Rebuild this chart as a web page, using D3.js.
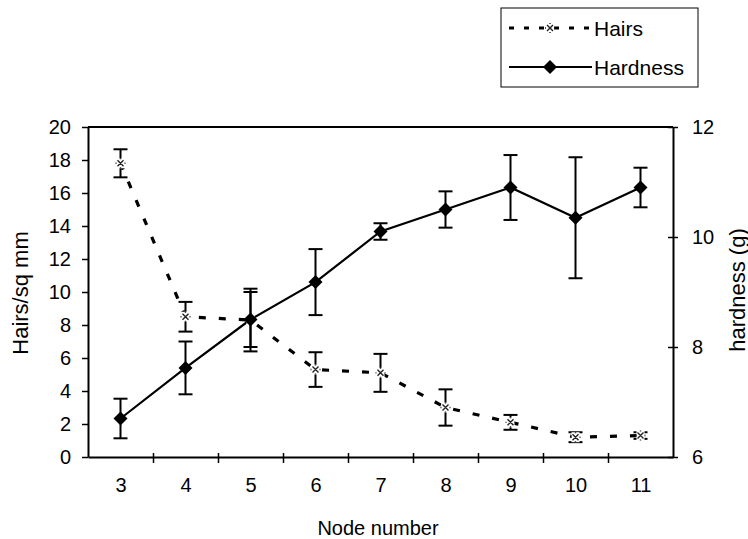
<!DOCTYPE html>
<html>
<head>
<meta charset="utf-8">
<script src="https://cdn.jsdelivr.net/npm/d3@7"></script>
<style>
  body { margin: 0; background: #fff; }
  svg { display: block; }
  text { font-family: "Liberation Sans", Arial, sans-serif; fill: #000; }
</style>
</head>
<body>
<svg id="chart" width="748" height="539"></svg>
<script>
// ---- data ----
const nodes = [3, 4, 5, 6, 7, 8, 9, 10, 11];
const hairs = [17.8, 8.5, 8.3, 5.3, 5.1, 3.0, 2.1, 1.2, 1.3];
const hairsErr = [0.85, 0.9, 1.9, 1.05, 1.15, 1.1, 0.45, 0.3, 0.2];
const hardness = [6.7, 7.62, 8.5, 9.18, 10.1, 10.5, 10.9, 10.35, 10.9];
const hardnessErr = [0.36, 0.48, 0.5, 0.6, 0.15, 0.33, 0.59, 1.1, 0.36];
const leftTicks = [0, 2, 4, 6, 8, 10, 12, 14, 16, 18, 20];
const rightTicks = [6, 8, 10, 12];
const seriesNames = ["Hairs", "Hardness"];
const xTitle = "Node number";
const yLeftTitle = "Hairs/sq mm";
const yRightTitle = "hardness (g)";

// ---- layout ----
const L = 88, R = 673, T = 127, B = 457;
const svg = d3.select("#chart");

const x = d3.scaleLinear().domain([2.5, 11.5]).range([L, R]);
const yL = d3.scaleLinear().domain([0, 20]).range([B, T]);
const yR = d3.scaleLinear().domain([6, 12]).range([B, T]);

// top border
svg.append("line").attr("x1", L).attr("x2", R).attr("y1", T).attr("y2", T)
  .attr("stroke", "#000").attr("stroke-width", 2);

// left axis
const gL = svg.append("g").attr("transform", `translate(${L},0)`)
  .call(d3.axisLeft(yL).tickValues(leftTicks).tickFormat(d3.format("d")).tickSize(6).tickSizeOuter(0).tickPadding(11));
// right axis
const gR = svg.append("g").attr("transform", `translate(${R},0)`)
  .call(d3.axisRight(yR).tickValues(rightTicks).tickFormat(d3.format("d")).tickSize(5).tickSizeOuter(0).tickPadding(14));
gR.selectAll(".tick line").attr("x1", -5);
// bottom axis: labels
const gB = svg.append("g").attr("transform", `translate(0,${B})`)
  .call(d3.axisBottom(x).tickValues(nodes).tickFormat(d3.format("d")).tickSize(0).tickSizeOuter(0).tickPadding(21));
// bottom axis: boundary ticks
const bounds = nodes.slice(0, -1).map(d => d + 0.5);
const gB2 = svg.append("g").attr("transform", `translate(0,${B})`)
  .call(d3.axisBottom(x).tickValues(bounds).tickFormat("").tickSize(6).tickSizeOuter(0));
gB2.selectAll(".tick line").attr("y1", -4);
gB2.select(".domain").remove();

[gL, gR, gB, gB2].forEach(g => {
  g.selectAll(".domain").attr("stroke", "#000").attr("stroke-width", 2);
  g.selectAll(".tick line").attr("stroke", "#000").attr("stroke-width", 1.5);
  g.selectAll("text").style("font-size", "20px").style("font-family", '"Liberation Sans", Arial, sans-serif').attr("fill", "#000");
});

// titles
svg.append("text").attr("x", 378).attr("y", 535).attr("text-anchor", "middle")
  .style("font-size", "20px").text(xTitle);
svg.append("text").attr("transform", "translate(20,293) rotate(-90)")
  .attr("text-anchor", "middle").attr("dominant-baseline", "central")
  .style("font-size", "22px").text(yLeftTitle);
svg.append("text").attr("transform", "translate(737,290) rotate(-90)")
  .attr("text-anchor", "middle").attr("dominant-baseline", "central")
  .style("font-size", "22px").text(yRightTitle);

// ---- series ----
const hairsData = nodes.map((n, i) => ({ n, v: hairs[i], e: hairsErr[i] }));
const hardData = nodes.map((n, i) => ({ n, v: hardness[i], e: hardnessErr[i] }));

const dash = "7,13";
// hairs line
svg.append("path").datum(hairsData)
  .attr("d", d3.line().x(d => x(d.n)).y(d => yL(d.v)))
  .attr("fill", "none").attr("stroke", "#000").attr("stroke-width", 3.2)
  .attr("stroke-dasharray", dash);
// hardness line
svg.append("path").datum(hardData)
  .attr("d", d3.line().x(d => x(d.n)).y(d => yR(d.v)))
  .attr("fill", "none").attr("stroke", "#000").attr("stroke-width", 2.2);

function errorBars(data, y) {
  const cap = 7;
  const g = svg.append("g").attr("stroke", "#000").attr("stroke-width", 2);
  data.forEach(d => {
    const cx = x(d.n), y1 = y(d.v + d.e), y2 = y(d.v - d.e);
    g.append("line").attr("x1", cx).attr("x2", cx).attr("y1", y1).attr("y2", y2);
    g.append("line").attr("x1", cx - cap).attr("x2", cx + cap).attr("y1", y1).attr("y2", y1);
    g.append("line").attr("x1", cx - cap).attr("x2", cx + cap).attr("y1", y2).attr("y2", y2);
  });
}
errorBars(hairsData, yL);
errorBars(hardData, yR);

// markers
const diamond = "M0,-7L7,0L0,7L-7,0Z";
const hairMark = "M-3,-3L3,3M-3,3L3,-3M0,-5L0,-4M0,4L0,5M-5,0L-4,0M4,0L5,0";
function drawHair(g, cx, cy) {
  g.append("rect").attr("x", cx - 4).attr("y", cy - 5).attr("width", 8).attr("height", 10).attr("fill", "#fff");
  g.append("path").attr("d", hairMark).attr("transform", `translate(${cx},${cy})`)
    .attr("fill", "none").attr("stroke", "#222").attr("stroke-width", 1.4);
}
const gm = svg.append("g");
hairsData.forEach(d => drawHair(gm, x(d.n), yL(d.v)));
hardData.forEach(d => {
  gm.append("path").attr("d", diamond).attr("transform", `translate(${x(d.n)},${yR(d.v)})`).attr("fill", "#000");
});

// ---- legend ----
const lg = svg.append("g");
lg.append("rect").attr("x", 501).attr("y", 8).attr("width", 197).attr("height", 79)
  .attr("fill", "#fff").attr("stroke", "#000").attr("stroke-width", 1);
lg.append("line").attr("x1", 509).attr("x2", 592).attr("y1", 28).attr("y2", 28)
  .attr("stroke", "#000").attr("stroke-width", 3.2).attr("stroke-dasharray", "5,10");
drawHair(lg, 550, 28);
lg.append("line").attr("x1", 509).attr("x2", 592).attr("y1", 67).attr("y2", 67)
  .attr("stroke", "#000").attr("stroke-width", 2);
lg.append("path").attr("d", diamond).attr("transform", "translate(550,67)").attr("fill", "#000");
lg.append("text").attr("x", 594).attr("y", 28).attr("dominant-baseline", "central")
  .style("font-size", "21px").text(seriesNames[0]);
lg.append("text").attr("x", 594).attr("y", 67).attr("dominant-baseline", "central")
  .style("font-size", "21px").text(seriesNames[1]);
</script>
</body>
</html>
